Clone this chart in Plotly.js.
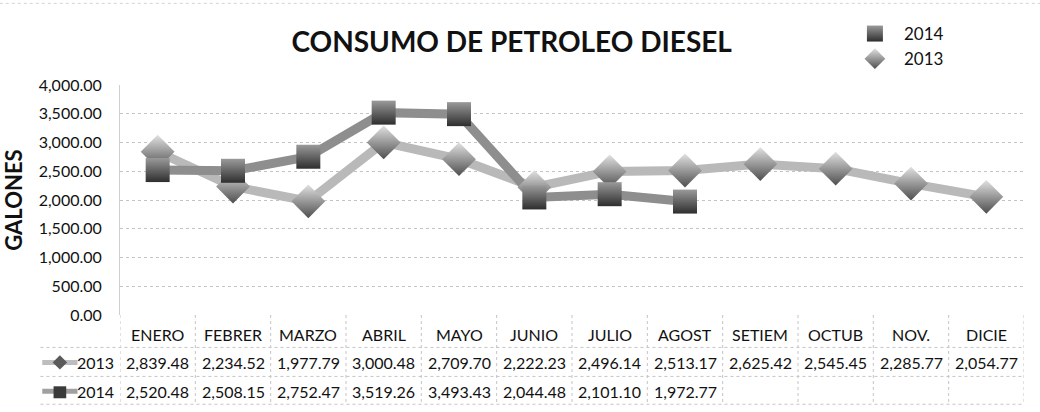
<!DOCTYPE html>
<html>
<head>
<meta charset="utf-8">
<script src="https://cdn.plot.ly/plotly-3.0.1.min.js"></script>
<style>html,body{margin:0;padding:0;background:#fff;}#chart{width:1040px;height:412px;}</style>
</head>
<body>
<div id="chart"></div>
<script>
const months = ["ENERO","FEBRER","MARZO","ABRIL","MAYO","JUNIO","JULIO","AGOST","SETIEM","OCTUB","NOV.","DICIE"];
const values2013 = [2839.48,2234.52,1977.79,3000.48,2709.70,2222.23,2496.14,2513.17,2625.42,2545.45,2285.77,2054.77];
const values2014 = [2520.48,2508.15,2752.47,3519.26,3493.43,2044.48,2101.10,1972.77];
const seriesNames = ["2013","2014"];
const yTicks = [0,500,1000,1500,2000,2500,3000,3500,4000];

const FONT = "Lato, 'Open Sans', sans-serif";
const fmt = v => v.toLocaleString('en-US',{minimumFractionDigits:2, maximumFractionDigits:2});

const traces = [
  {x: months, y: values2013, mode:'lines', line:{color:'#b9b9b9', width:9}, showlegend:false, hoverinfo:'skip'},
  {x: months.slice(0, values2014.length), y: values2014, mode:'lines', line:{color:'#8e8e8e', width:9}, showlegend:false, hoverinfo:'skip'},
  {x: months, y: values2013, mode:'markers', name: seriesNames[0],
   marker:{symbol:'diamond', size:26, color:'#e2e2e2', gradient:{type:'vertical', color:'#4e4e4e'}, line:{width:0}}},
  {x: months.slice(0, values2014.length), y: values2014, mode:'markers', name: seriesNames[1],
   marker:{symbol:'square', size:24, color:'#9a9a9a', gradient:{type:'vertical', color:'#2e2e2e'}, line:{width:0}}}
];

// table geometry in paper coords (plot height 230.5px)
const rowHeader = -0.085, row2013 = -0.206, row2014 = -0.332;
const lineYs = [-0.141, -0.267, -0.388];

const annotations = [];
months.forEach((m,i)=>{
  annotations.push({x:m, xref:'x', y:rowHeader, yref:'paper', text:m, showarrow:false, xanchor:'center', yanchor:'middle', font:{family:FONT, size:16, color:'#111'}});
});
values2013.forEach((v,i)=>{
  annotations.push({x:months[i], xref:'x', y:row2013, yref:'paper', text:fmt(v), showarrow:false, xanchor:'center', yanchor:'middle', font:{family:FONT, size:16, color:'#111'}});
});
values2014.forEach((v,i)=>{
  annotations.push({x:months[i], xref:'x', y:row2014, yref:'paper', text:fmt(v), showarrow:false, xanchor:'center', yanchor:'middle', font:{family:FONT, size:16, color:'#111'}});
});
annotations.push({x:-0.004, xref:'paper', y:row2013, yref:'paper', text:seriesNames[0], showarrow:false, xanchor:'right', yanchor:'middle', font:{family:FONT, size:16, color:'#111'}});
annotations.push({x:-0.004, xref:'paper', y:row2014, yref:'paper', text:seriesNames[1], showarrow:false, xanchor:'right', yanchor:'middle', font:{family:FONT, size:16, color:'#111'}});

const shapes = [];
for (let k=0;k<=months.length;k++){
  shapes.push({type:'line', xref:'x', yref:'paper', x0:k-0.5, x1:k-0.5, y0:0, y1:lineYs[2], line:{color:'#c4c4c4', width:1, dash:'dot'}});
}
lineYs.forEach(y=>{
  shapes.push({type:'line', xref:'paper', yref:'paper', x0:-0.088, x1:1, y0:y, y1:y, line:{color:'#c4c4c4', width:1, dash:'dot'}});
});
// top border
shapes.push({type:'line', xref:'paper', yref:'paper', x0:-0.133, x1:1.0177, y0:1.355, y1:1.355, line:{color:'#d4d4d4', width:1, dash:'dot'}});
// legend keys inside the table
shapes.push({type:'line', xref:'paper', yref:'paper', x0:-0.086, x1:-0.047, y0:row2013, y1:row2013, line:{color:'#bdbdbd', width:5}});
shapes.push({type:'path', xref:'paper', yref:'paper', path:'M -0.0745 -0.206 L -0.0665 -0.175 L -0.0585 -0.206 L -0.0665 -0.237 Z', fillcolor:'#5a5a5a', line:{width:0}});
shapes.push({type:'line', xref:'paper', yref:'paper', x0:-0.086, x1:-0.047, y0:row2014, y1:row2014, line:{color:'#a0a0a0', width:5}});
shapes.push({type:'rect', xref:'paper', yref:'paper', x0:-0.0735, x1:-0.0595, y0:-0.362, y1:-0.31, fillcolor:'#3a3a3a', line:{width:0}});

const layout = {
  width:1040, height:412,
  margin:{l:120, r:16, t:85, b:96.5, pad:0},
  paper_bgcolor:'#ffffff', plot_bgcolor:'#ffffff',
  title:{text:'<b>CONSUMO DE PETROLEO DIESEL</b>', x:0.492, xanchor:'center', y:0.897, yanchor:'middle', font:{family:FONT, size:28, color:'#111'}},
  xaxis:{type:'category', range:[-0.5, months.length-0.5], showticklabels:false, ticks:'', showgrid:false, zeroline:false, showline:false, fixedrange:true},
  yaxis:{range:[0,4000], tickvals:yTicks, tickformat:',.2f', ticks:'', ticklabelstandoff:14,
         tickfont:{family:FONT, size:16, color:'#111'}, showgrid:true, gridcolor:'#c4c4c4', griddash:'dot', gridwidth:1,
         zeroline:false, showline:true, linecolor:'#d0d0d0', linewidth:1,
         title:{text:'<b>GALONES</b>', font:{family:FONT, size:22, color:'#111'}, standoff:12}},
  legend:{x:0.803, xanchor:'left', y:1.30, yanchor:'top', traceorder:'reversed', font:{family:FONT, size:17, color:'#111'}, bgcolor:'rgba(0,0,0,0)', itemwidth:48, tracegroupgap:0},
  showlegend:true,
  annotations: annotations,
  shapes: shapes
};

Plotly.newPlot('chart', traces, layout, {displayModeBar:false, staticPlot:true});
</script>
</body>
</html>
